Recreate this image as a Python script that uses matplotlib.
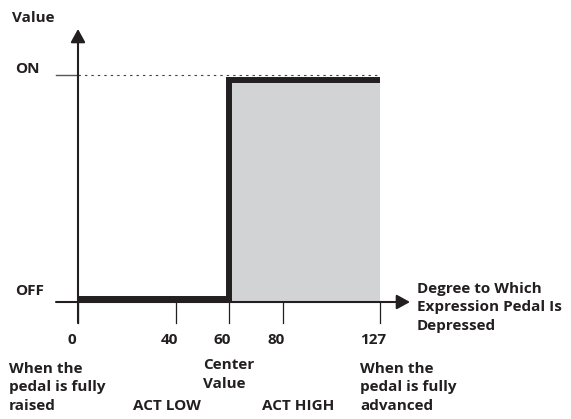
import matplotlib
matplotlib.use('Agg')
import matplotlib.pyplot as plt
import numpy as np
from matplotlib.transforms import ScaledTranslation, blended_transform_factory

# data
STEP_X = [0, 60, 127]          # pedal position where level changes
STEP_Y = [0, 1, 1]             # OFF=0, ON=1
TICKS = [0, 40, 60, 80, 127]
TICK_LABELS = ['0', '40', '60', '80', '127']
LEVEL_LABELS = ['OFF', 'ON']
CENTER = 60
MAX_VAL = 127
# schematic (non-linear) spacing of the x axis as drawn
SCALE_VALS = [0, 40, 60, 80, 127]
SCALE_POS = [0, 98, 151, 205, 302]

W, H, DPI = 571, 419, 100
INK = '#231f20'
plt.rcParams['font.family'] = ['Open Sans', 'DejaVu Sans']
plt.rcParams['font.weight'] = 'bold'

fig = plt.figure(figsize=(W/DPI, H/DPI), dpi=DPI)
L, R, T, B = 78, 380, 80, 302
ax = fig.add_axes([L/W, 1-B/H, (R-L)/W, (B-T)/H])
fwd = lambda v: np.interp(v, SCALE_VALS, SCALE_POS)
inv = lambda p: np.interp(p, SCALE_POS, SCALE_VALS)
ax.set_xscale('function', functions=(fwd, inv))
ax.set_xlim(0, MAX_VAL); ax.set_ylim(-0.016, 1)
ax.axis('off')

def px(x, y): return (x/W, 1-y/H)

# shaded "on" region
ax.axvspan(CENTER, MAX_VAL, color='#d1d3d4', lw=0, zorder=1)
# step line
ax.plot(STEP_X, STEP_Y, drawstyle='steps-post', color=INK, lw=4.3, solid_capstyle='butt', solid_joinstyle='miter', clip_on=False, zorder=3)
# dotted ON guide
up = ax.transData + ScaledTranslation(0, 5/DPI, fig.dpi_scale_trans)
ax.plot([0, MAX_VAL], [1, 1], transform=up, color='#444', lw=0.8, ls=(0, (2.2, 3.6)), clip_on=False, zorder=2)
ax.plot([-22/302, 0], [1, 1], transform=blended_transform_factory(ax.transAxes, up), color='#555', lw=1, clip_on=False)

# axes with arrows
ap = dict(arrowstyle='-|>,head_length=0.4,head_width=0.22', color=INK, lw=1.5, mutation_scale=20, shrinkA=0, shrinkB=0)
ax.annotate('', xy=(332/302, 0), xytext=(-22/302, 0), xycoords='axes fraction', arrowprops=ap, zorder=4)
ax.annotate('', xy=(0, 273/222), xytext=(0, -21/222), xycoords='axes fraction', arrowprops=ap, zorder=4)

# ticks and tick labels
tb = blended_transform_factory(ax.transData, ax.transAxes)
for t, lab in zip(TICKS, TICK_LABELS):
    ax.plot([t, t], [0, -21/222], transform=tb, color=INK, lw=0.9, clip_on=False)
    ax.text(t, 0, lab, transform=tb + ScaledTranslation(-6.5/DPI, -42/DPI, fig.dpi_scale_trans),
            ha='center', va='baseline', fontsize=11, color=INK)

# multi-line texts are anchored at the baseline of their last line
txt = dict(fontsize=11, color=INK, transform=fig.transFigure, va='baseline', linespacing=1.43)
fig.text(*px(12, 22), 'Value', **txt)
fig.text(*px(15, 73), LEVEL_LABELS[1], **txt)
fig.text(*px(15, 295), LEVEL_LABELS[0], **txt)
fig.text(*px(417, 330), 'Degree to Which\nExpression Pedal Is\nDepressed', **txt)
fig.text(*px(9, 410), 'When the\npedal is fully\nraised', **txt)
fig.text(*px(203, 388), 'Center\nValue', **txt)
fig.text(*px(360, 410), 'When the\npedal is fully\nadvanced', **txt)
fig.text(*px(133, 410), 'ACT LOW', **txt)
fig.text(*px(262, 410), 'ACT HIGH', **txt)

fig.savefig('out.png', dpi=DPI)
